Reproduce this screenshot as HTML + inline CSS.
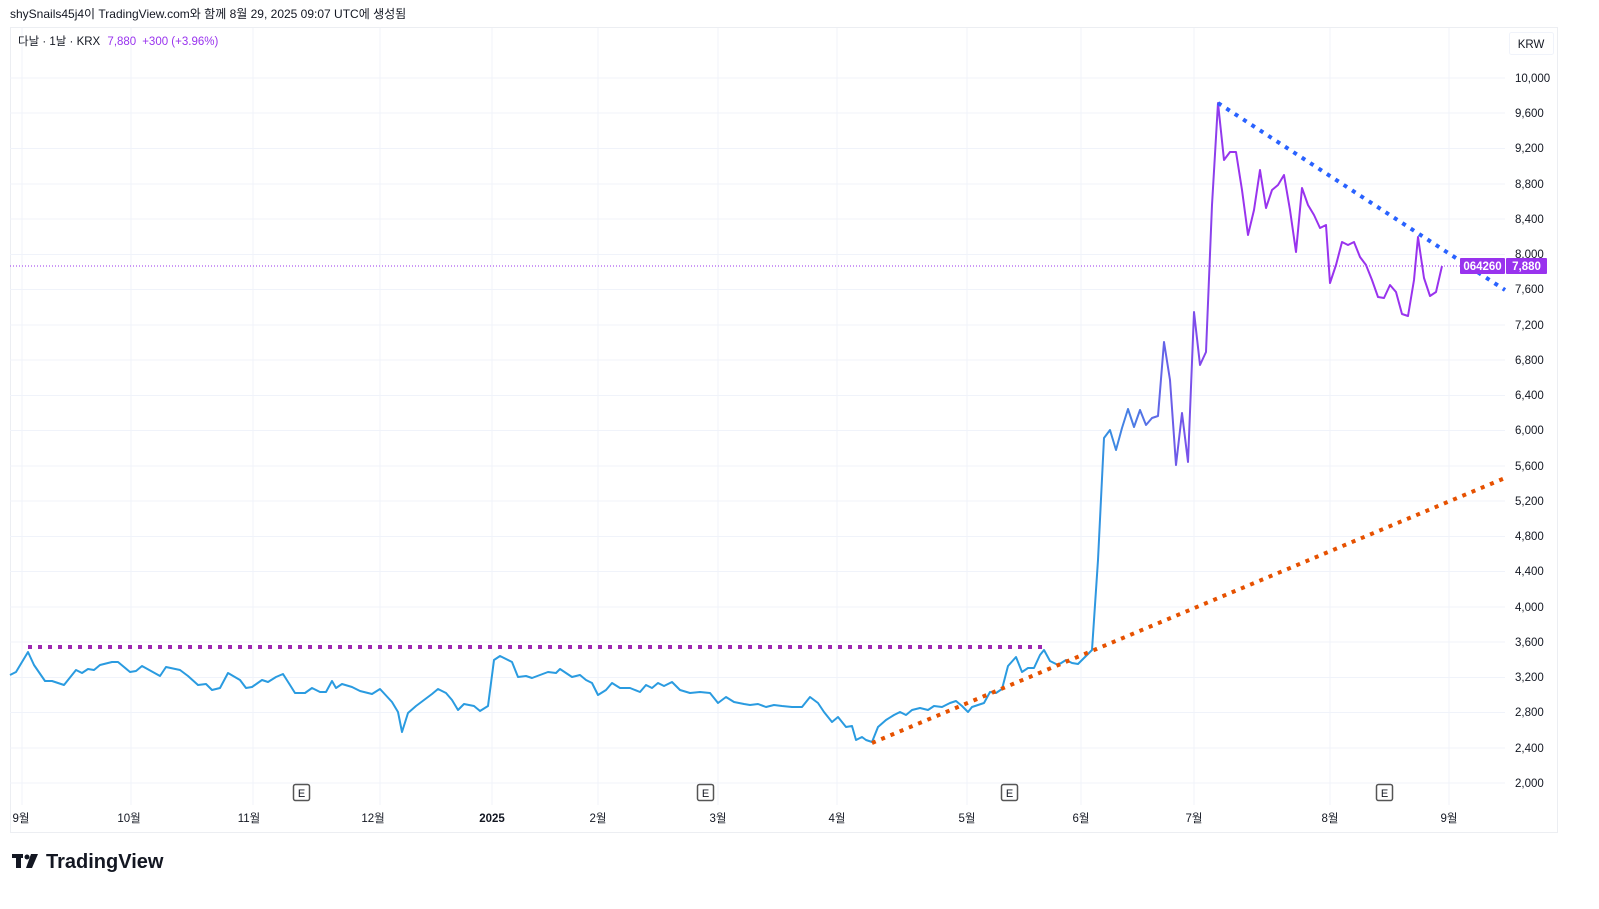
<!DOCTYPE html>
<html><head><meta charset="utf-8"><style>
body{margin:0;background:#fff;width:1599px;height:909px;overflow:hidden;font-family:"Liberation Sans","Noto Sans CJK KR",sans-serif}
</style></head><body>
<svg width="1599" height="909" xmlns="http://www.w3.org/2000/svg" style="position:absolute;left:0;top:0;font-family:'Liberation Sans','Noto Sans CJK KR',sans-serif">
<defs><linearGradient id="g" gradientUnits="userSpaceOnUse" x1="1090" y1="0" x2="1230" y2="0"><stop offset="0" stop-color="#2a9be0"/><stop offset="1" stop-color="#9933ee"/></linearGradient></defs>
<text x="10" y="18" font-size="12" fill="#131722">shySnails45j4이 TradingView.com와 함께 8월 29, 2025 09:07 UTC에 생성됨</text>
<rect x="10.5" y="27.5" width="1547" height="805" fill="none" stroke="#eceef2"/>
<g stroke="#f0f3fa" stroke-width="1">
<line x1="10" x2="1505" y1="78" y2="78"/><line x1="10" x2="1505" y1="113" y2="113"/><line x1="10" x2="1505" y1="148.5" y2="148.5"/><line x1="10" x2="1505" y1="184" y2="184"/><line x1="10" x2="1505" y1="219" y2="219"/><line x1="10" x2="1505" y1="254.5" y2="254.5"/><line x1="10" x2="1505" y1="289.5" y2="289.5"/><line x1="10" x2="1505" y1="325" y2="325"/><line x1="10" x2="1505" y1="360" y2="360"/><line x1="10" x2="1505" y1="395.5" y2="395.5"/><line x1="10" x2="1505" y1="430.5" y2="430.5"/><line x1="10" x2="1505" y1="466" y2="466"/><line x1="10" x2="1505" y1="501" y2="501"/><line x1="10" x2="1505" y1="536.5" y2="536.5"/><line x1="10" x2="1505" y1="571.5" y2="571.5"/><line x1="10" x2="1505" y1="607" y2="607"/><line x1="10" x2="1505" y1="642" y2="642"/><line x1="10" x2="1505" y1="677.5" y2="677.5"/><line x1="10" x2="1505" y1="712.5" y2="712.5"/><line x1="10" x2="1505" y1="748" y2="748"/><line x1="10" x2="1505" y1="783" y2="783"/>
<line y1="28" y2="805" x1="22" x2="22"/><line y1="28" y2="805" x1="131" x2="131"/><line y1="28" y2="805" x1="253" x2="253"/><line y1="28" y2="805" x1="380" x2="380"/><line y1="28" y2="805" x1="492" x2="492"/><line y1="28" y2="805" x1="598" x2="598"/><line y1="28" y2="805" x1="718" x2="718"/><line y1="28" y2="805" x1="837" x2="837"/><line y1="28" y2="805" x1="967" x2="967"/><line y1="28" y2="805" x1="1081" x2="1081"/><line y1="28" y2="805" x1="1194" x2="1194"/><line y1="28" y2="805" x1="1330" x2="1330"/><line y1="28" y2="805" x1="1449" x2="1449"/>
</g>
<text x="18" y="45" font-size="11.5" fill="#131722">다날 · 1날 · KRX <tspan fill="#9933ee" dx="4">7,880</tspan><tspan fill="#9933ee" dx="6">+300 (+3.96%)</tspan></text>
<rect x="1509.5" y="32.5" width="44" height="22" rx="2" fill="#fff" stroke="#f0f3fa"/>
<text x="1531" y="48" font-size="11.5" fill="#131722" text-anchor="middle">KRW</text>
<g font-size="11.5" fill="#131722">
<text x="1515" y="82">10,000</text><text x="1515" y="117">9,600</text><text x="1515" y="152">9,200</text><text x="1515" y="188">8,800</text><text x="1515" y="223">8,400</text><text x="1515" y="258">8,000</text><text x="1515" y="293">7,600</text><text x="1515" y="329">7,200</text><text x="1515" y="364">6,800</text><text x="1515" y="399">6,400</text><text x="1515" y="434">6,000</text><text x="1515" y="470">5,600</text><text x="1515" y="505">5,200</text><text x="1515" y="540">4,800</text><text x="1515" y="575">4,400</text><text x="1515" y="611">4,000</text><text x="1515" y="646">3,600</text><text x="1515" y="681">3,200</text><text x="1515" y="716">2,800</text><text x="1515" y="752">2,400</text><text x="1515" y="787">2,000</text>
</g>
<g font-size="11.5" fill="#131722" text-anchor="middle">
<text x="21" y="822">9월</text><text x="129" y="822">10월</text><text x="249" y="822">11월</text><text x="373" y="822">12월</text><text x="492" y="822" font-weight="bold">2025</text><text x="598" y="822">2월</text><text x="718" y="822">3월</text><text x="837" y="822">4월</text><text x="967" y="822">5월</text><text x="1081" y="822">6월</text><text x="1194" y="822">7월</text><text x="1330" y="822">8월</text><text x="1449" y="822">9월</text>
</g>
<g font-size="11" fill="#131722" text-anchor="middle">
<rect x="293.5" y="784.5" width="16" height="16" rx="2" fill="#fff" stroke="#555" stroke-width="1.5"/><text x="301.5" y="797">E</text>
<rect x="697.5" y="784.5" width="16" height="16" rx="2" fill="#fff" stroke="#555" stroke-width="1.5"/><text x="705.5" y="797">E</text>
<rect x="1001.5" y="784.5" width="16" height="16" rx="2" fill="#fff" stroke="#555" stroke-width="1.5"/><text x="1009.5" y="797">E</text>
<rect x="1376.5" y="784.5" width="16" height="16" rx="2" fill="#fff" stroke="#555" stroke-width="1.5"/><text x="1384.5" y="797">E</text>
</g>
<line x1="10" x2="1460" y1="266" y2="266" stroke="#9933ee" stroke-width="1" stroke-dasharray="1,2"/>
<polyline fill="none" stroke="url(#g)" stroke-width="2" stroke-linejoin="round" points="10,675 16,672 28,652 34,665 45,681 52,681 64,685 76,670 82,673 88,669 94,670 100,665 112,662 118,662 130,672 136,671 142,666 160,676 166,667 180,670 188,676 198,685 206,684 212,690 220,688 228,673 240,680 246,688 252,687 262,680 268,682 276,677 283,674 290,685 295,693 305,693 312,688 320,692 326,692 332,681 336,688 342,684 352,687 360,691 372,694 380,689 392,702 398,712 402,732 408,713 416,706 424,700 432,694 438,689 446,693 452,700 458,710 464,704 474,706 480,711 488,706 494,660 500,656 512,662 518,677 526,676 532,678 540,675 548,672 556,673 560,669 566,673 572,677 580,675 586,680 592,683 598,695 606,690 612,683 620,688 630,688 640,692 646,685 652,688 658,683 664,686 672,682 680,690 690,693 700,692 710,693 718,703 726,697 734,702 744,704 750,705 758,704 766,707 774,705 782,706 792,707 802,707 810,697 818,703 824,712 832,722 838,717 846,727 852,726 856,740 862,737 866,740 872,742 878,727 886,720 894,715 900,712 906,715 912,710 920,708 928,710 934,706 942,707 950,703 956,701 962,706 968,712 972,707 978,705 984,703 990,692 996,693 1002,689 1008,666 1016,657 1022,672 1028,668 1034,668 1040,655 1044,650 1050,661 1058,665 1066,660 1072,663 1078,664 1086,656 1092,650 1098,560 1104,438 1110,430 1116,450 1122,428 1128,409 1134,427 1140,410 1146,425 1152,418 1158,416 1164,342 1170,380 1176,465 1182,413 1188,462 1194,312 1200,365 1206,352 1212,205 1218,103 1224,160 1230,152 1236,152 1242,190 1248,235 1254,210 1260,170 1266,208 1272,190 1278,185 1284,175 1290,210 1296,252 1302,188 1308,205 1314,215 1320,228 1326,225 1330,283 1336,265 1342,242 1348,245 1354,242 1360,257 1366,265 1372,280 1378,297 1384,298 1390,285 1396,292 1402,314 1408,316 1414,280 1418,237 1424,278 1430,296 1436,292 1442,266"/>
<g fill="none" stroke-width="4" stroke-dasharray="4,6">
<line x1="28" y1="647" x2="1044" y2="647" stroke="#9c27b0"/>
<line x1="872" y1="743" x2="1505" y2="478" stroke="#e65100"/>
<line x1="1218" y1="103" x2="1505" y2="290" stroke="#2962ff"/>
</g>
<rect x="1460" y="258" width="45" height="16" rx="1" fill="#9933ee"/><text x="1482.5" y="270" font-size="11.5" fill="#fff" text-anchor="middle" font-weight="bold">064260</text>
<rect x="1506" y="258" width="41" height="16" rx="1" fill="#9933ee"/><text x="1526.5" y="270" font-size="11.5" fill="#fff" text-anchor="middle" font-weight="bold">7,880</text>
<g fill="#131722"><rect x="12" y="854" width="11" height="4"/><rect x="16" y="854" width="5" height="14"/><circle cx="27" cy="857" r="2.5"/><polygon points="31,854 38,854 32,868 26,868"/></g>
<text x="46" y="868" font-size="20" font-weight="bold" fill="#131722">TradingView</text>
</svg>
</body></html>
